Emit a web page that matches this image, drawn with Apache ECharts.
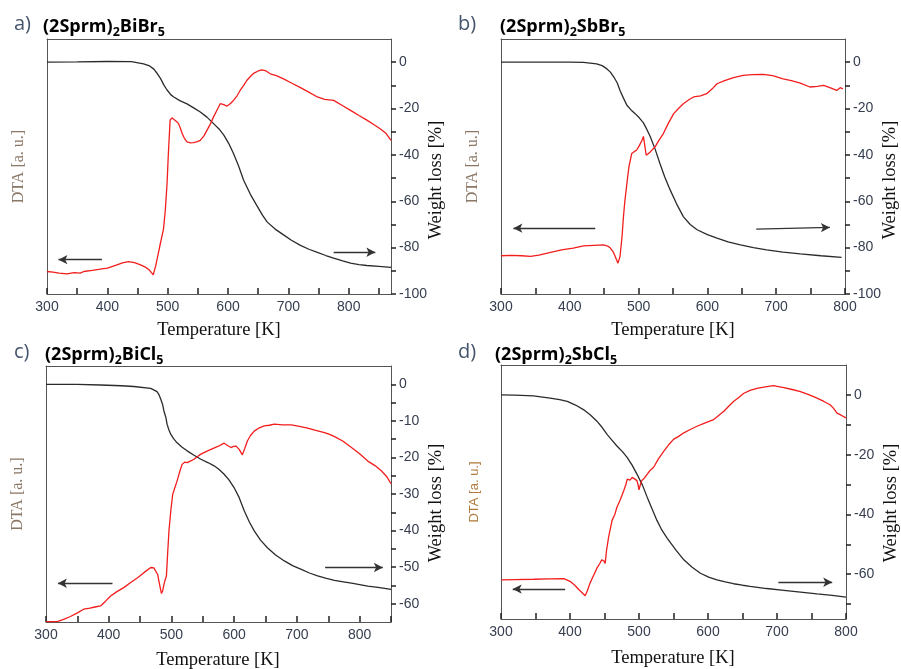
<!DOCTYPE html>
<html><head><meta charset="utf-8">
<script src="https://cdn.jsdelivr.net/npm/echarts@6/dist/echarts.min.js"></script>
<style>html,body{margin:0;padding:0;background:#fff}#c{width:901px;height:669px}</style>
</head><body><div id="c"></div>
<script>
// ---------- DATA ----------
const tgaA = [[300,0],[350,0.1],[400,0.3],[440,0.2],[460,-0.7],[470,-1.6],[477,-3],[483,-5],[488,-7],[494,-10],[499,-12],[505,-14],[510,-15],[520,-16.6],[532,-18],[543,-19.7],[554,-21.5],[565,-23.7],[576,-26.5],[585,-28.8],[593,-31.5],[601,-35],[609,-39.4],[617,-44.5],[626,-51],[637,-57],[648,-62],[657,-66],[665,-69],[678,-72],[692,-74.5],[705,-76.8],[720,-79],[734,-80.7],[748,-82],[762,-83.4],[775,-84.5],[790,-85.7],[803,-86.7],[817,-87.3],[830,-87.7],[850,-88.1],[870,-88.5]];
const dtaA = [[300,-90.3],[310,-90.6],[320,-91.0],[333,-91.3],[345,-90.8],[355,-91.0],[361,-90.3],[375,-89.8],[388,-89.3],[400,-88.8],[416,-87.4],[425,-86.6],[435,-86],[445,-86.5],[455,-87.4],[463,-88.4],[469,-89.5],[473,-90.8],[476,-91.7],[478,-91],[480,-88],[484,-83],[488,-78],[493,-72],[496,-64],[499,-52],[501,-40],[504,-25],[507,-24],[510,-24],[514,-25.5],[518,-26.5],[521,-28.5],[524,-30.8],[528,-33],[532,-34.4],[538,-34.8],[543,-34.7],[549,-34.3],[554,-33.7],[560,-31.8],[565,-29.4],[571,-26.5],[576,-23.6],[582,-20.5],[587,-17.9],[593,-18.3],[598,-19],[604,-17.8],[609,-16.5],[615,-14.5],[620,-12.2],[626,-10],[631,-7.9],[637,-6.2],[643,-4.7],[650,-3.8],[656,-3.3],[663,-3.8],[670,-5],[680,-5.8],[692,-7.2],[705,-9],[720,-11],[733,-12.8],[748,-15],[760,-16],[775,-16.5],[790,-18.8],[803,-20.8],[817,-23],[830,-25],[842,-27],[852,-28.7],[862,-30.8],[870,-33.7]];

const tgaB = [[300,0],[350,0],[400,0],[420,-0.1],[439,-0.7],[447,-1.5],[454,-2.9],[459,-4.3],[464,-6.4],[469,-9],[473,-12.2],[478,-15.5],[483,-18.6],[489,-20.6],[495,-22.2],[501,-24],[507,-26.2],[512,-29],[517,-32.2],[524,-37.5],[531,-43.7],[538,-49.5],[546,-55.2],[555,-61],[565,-66.6],[575,-70],[585,-72.3],[600,-74.4],[614,-75.9],[630,-77.5],[648,-78.8],[667,-80],[686,-81],[710,-81.9],[735,-82.7],[765,-83.5],[795,-84.2]];
const dtaB = [[300,-83.5],[315,-83.3],[330,-83.5],[343,-83.8],[355,-83.2],[372,-82],[388,-81],[405,-80.2],[420,-79.2],[435,-79],[449,-78.8],[455,-79.3],[459,-80.2],[463,-81.8],[466,-83.8],[470,-86.7],[473,-83.8],[476,-75],[478,-66.6],[480,-60],[483,-52.3],[486,-45],[490,-39.4],[494,-38.5],[497,-38],[501,-36],[505,-33.7],[507,-32],[509,-36],[511,-40.1],[514,-39.5],[517,-38.7],[524,-36.5],[530,-33.5],[536,-30.8],[543,-26.5],[551,-22.2],[558,-20],[565,-17.9],[573,-16.2],[580,-15],[590,-14.5],[599,-13.6],[607,-11.5],[614,-9.3],[625,-8],[638,-6.7],[652,-5.7],[665,-5.4],[681,-5.3],[695,-5.8],[710,-7.2],[722,-8],[735,-9],[749,-10.7],[760,-10.4],[769,-10],[778,-11],[788,-12.2],[793,-11],[797,-11.5]];

const tgaC = [[300,0],[350,0],[387,-0.2],[420,-0.4],[440,-0.6],[467,-1.1],[477,-2],[480,-2.8],[483,-4.1],[486,-5.6],[488,-7.3],[491,-9],[493,-10.9],[496,-12.5],[499,-13.7],[504,-15],[509,-16],[517,-17.2],[525,-18.2],[536,-19.4],[547,-20.5],[558,-21.4],[568,-22.3],[576,-23.3],[584,-24.6],[592,-26.2],[600,-28.3],[608,-31],[616,-34.6],[624,-37.6],[632,-40.1],[642,-42.6],[653,-44.7],[666,-46.7],[680,-48.3],[693,-49.6],[707,-50.6],[720,-51.6],[733,-52.4],[747,-53.1],[760,-53.6],[774,-54],[787,-54.4],[800,-54.8],[813,-55.2],[832,-55.6],[850,-56.1]];
const dtaC = [[300,-64.9],[310,-64.9],[318,-64.9],[328,-64.3],[339,-63.5],[350,-62.5],[360,-61.5],[370,-61.2],[378,-60.9],[387,-60.6],[395,-59.3],[403,-57.9],[413,-56.7],[424,-55.6],[435,-54.2],[446,-52.9],[456,-51.5],[467,-50.1],[472,-50.2],[475,-50.6],[478,-52],[480,-53.8],[482,-55.5],[484,-57.2],[486,-56.5],[488,-54.7],[490,-53.5],[492,-52.4],[494,-46],[496,-40.1],[499,-34.5],[502,-30.1],[505,-28.5],[509,-26.4],[513,-24],[517,-21.9],[521,-21.3],[525,-21.4],[530,-21],[536,-20.5],[541,-19.8],[547,-19.1],[555,-18.4],[563,-17.8],[574,-17],[584,-16.1],[590,-16.8],[595,-17.3],[599,-17],[603,-16.9],[608,-17.8],[613,-19.3],[617,-17.5],[621,-15.5],[626,-14],[632,-12.8],[640,-11.9],[648,-11.4],[656,-11.2],[664,-10.9],[677,-11.1],[691,-11.1],[704,-11.5],[717,-12],[730,-12.6],[744,-13.2],[752,-13.7],[760,-14.3],[773,-15.5],[787,-17.3],[800,-19],[813,-21],[825,-22.3],[835,-23.7],[843,-25.2],[850,-27.2]];

const tgaD = [[300,0],[320,-0.1],[347,-0.3],[371,-1.1],[385,-1.6],[396,-2.2],[408,-3.4],[420,-5],[430,-6.8],[439,-8.8],[447,-11],[454,-13.3],[461,-15.2],[468,-17.1],[476,-19],[483,-21],[490,-23.5],[497,-26.5],[505,-30.2],[512,-34.3],[519,-38.2],[526,-42],[533,-45.2],[541,-48],[553,-51.8],[565,-55.2],[577,-57.7],[589,-59.7],[601,-61],[613,-61.9],[625,-62.6],[637,-63.2],[650,-63.7],[661,-64.1],[685,-64.8],[710,-65.4],[734,-66],[758,-66.6],[780,-67.1],[800,-67.7]];
const dtaD = [[300,-61.9],[320,-61.8],[347,-61.7],[370,-61.6],[391,-61.5],[400,-62.4],[407,-63.7],[413,-65.2],[418,-66.3],[422,-67.2],[425,-65.6],[429,-63],[434,-60.5],[439,-58],[443,-56.5],[446,-55.2],[449,-55.5],[451,-56.4],[453,-52],[456,-47.5],[461,-42],[465,-40],[468,-37.6],[473,-35],[478,-32],[481,-30],[483,-28.2],[487,-28.5],[490,-27.6],[494,-28.2],[497,-28.7],[499,-30.5],[500,-31.8],[502,-30],[504,-28.7],[508,-27.8],[512,-26.5],[516,-25.3],[521,-24.3],[528,-21.5],[536,-18.8],[543,-16.7],[550,-14.9],[558,-13.8],[565,-12.7],[575,-11.5],[584,-10.5],[596,-9.4],[608,-8.3],[615,-7],[623,-5.5],[630,-3.8],[637,-2.2],[645,-0.8],[652,0.55],[661,1.5],[671,2.2],[683,2.7],[695,3.1],[702,2.8],[710,2.4],[722,1.8],[734,1.1],[746,0.1],[758,-1.1],[768,-2.2],[777,-3.3],[782,-4.5],[787,-6.1],[793,-6.8],[800,-7.7]];

const arrowsA = [[[391,-85.2],[319,-85.2]],[[775,-82],[844,-82]]];
const arrowsB = [[[437,-71.6],[318,-71.6]],[[671,-72],[778,-71.3]]];
const arrowsC = [[[406,-54.4],[319,-54.4]],[[745,-50.1],[837,-50.1]]];
const arrowsD = [[[393,-65],[317,-65]],[[702,-62.7],[780,-62.7]]];

const xLabels = [300,400,500,600,700,800];
const xTicksA = [300,350,400,450,500,550,600,650,700,750,800,850];
const xTicksB = [300,350,400,450,500,550,600,650,700,750,800];
const xTicksC = [300,350,400,450,500,550,600,650,700,750,800,850];
const xTicksD = [300,350,400,450,500,550,600,650,700,750,800];
const yLabelsAB = [0,-20,-40,-60,-80,-100];
const yTicksAB = [0,-10,-20,-30,-40,-50,-60,-70,-80,-90,-100];
const yLabelsC = [0,-10,-20,-30,-40,-50,-60];
const yTicksC = [0,-5,-10,-15,-20,-25,-30,-35,-40,-45,-50,-55,-60];
const yLabelsD = [0,-20,-40,-60];
const yTicksD = [0,-10,-20,-30,-40,-50,-60,-70];

const panelLetters = ['a)','b)','c)','d)'];
const compounds = [['BiBr','5'],['SbBr','5'],['BiCl','5'],['SbCl','5']];
const xTitle = 'Temperature [K]';
const yTitle = 'Weight loss [%]';

// ---------- LAYOUT ----------
const panels = [
  {grid:{left:47,top:39,width:344,height:255}, xMax:870, yMin:-100, yMax:10, xLab:xLabels, xTick:xTicksA, yLab:yLabelsAB, yTick:yTicksAB, tga:tgaA, dta:dtaA, arrows:arrowsA, lx:14, tx:43, ty:15, xt:[219,330], yt:[436,180], dtaFont:'Liberation Serif', dtaColor:'#8a7766', dtaSize:16},
  {grid:{left:501,top:39,width:344,height:255}, xMax:800, yMin:-100, yMax:10, xLab:xLabels, xTick:xTicksB, yLab:yLabelsAB, yTick:yTicksAB, tga:tgaB, dta:dtaB, arrows:arrowsB, lx:458, tx:500, ty:15, xt:[673,330], yt:[890,180], dtaFont:'Liberation Serif', dtaColor:'#8a7766', dtaSize:16},
  {grid:{left:46,top:366,width:345,height:256}, xMax:850, yMin:-65, yMax:5, xLab:xLabels, xTick:xTicksC, yLab:yLabelsC, yTick:yTicksC, tga:tgaC, dta:dtaC, arrows:arrowsC, lx:14, tx:45, ty:343, xt:[218,660], yt:[436,503], dtaFont:'Liberation Serif', dtaColor:'#8a7766', dtaSize:16},
  {grid:{left:501,top:365,width:345,height:254}, xMax:800, yMin:-75, yMax:10, xLab:xLabels, xTick:xTicksD, yLab:yLabelsD, yTick:yTicksD, tga:tgaD, dta:dtaD, arrows:arrowsD, lx:458, tx:495, ty:343, xt:[673,658], yt:[891,503], dtaFont:'Liberation Sans', dtaColor:'#b07a3c', dtaSize:13}
];

const axisColor = '#555';
const tickColor = '#222';
const labelStyle = {fontFamily:'Liberation Sans', fontSize:14, color:'#353d4e'};
const option = {animation:false, backgroundColor:'#fff', grid:[], xAxis:[], yAxis:[], series:[], title:[], graphic:[]};

panels.forEach((p,i)=>{
  option.grid.push(Object.assign({show:false, containLabel:false}, p.grid));
  option.xAxis.push({type:'value', gridIndex:i, min:300, max:p.xMax,
    axisLine:{show:true, onZero:false, lineStyle:{color:axisColor}},
    axisTick:{show:true, inside:true, length:6, customValues:p.xTick, lineStyle:{color:tickColor, width:1.5}},
    axisLabel:{customValues:p.xLab, margin:6, ...labelStyle},
    splitLine:{show:false}});
  option.xAxis.push({type:'value', gridIndex:i, min:300, max:p.xMax, position:'top',
    axisLine:{show:true, onZero:false, lineStyle:{color:axisColor}},
    axisTick:{show:false}, axisLabel:{show:false}, splitLine:{show:false}});
  option.yAxis.push({type:'value', gridIndex:i, min:p.yMin, max:p.yMax, position:'right',
    axisLine:{show:true, onZero:false, lineStyle:{color:axisColor}},
    axisTick:{show:true, inside:false, length:5, customValues:p.yTick, lineStyle:{color:tickColor, width:1.5}},
    axisLabel:{customValues:p.yLab, margin:8, ...labelStyle},
    splitLine:{show:false}});
  option.yAxis.push({type:'value', gridIndex:i, min:p.yMin, max:p.yMax, position:'left',
    axisLine:{show:true, onZero:false, lineStyle:{color:axisColor}},
    axisTick:{show:false}, axisLabel:{show:false}, splitLine:{show:false},
    name:'DTA [a. u.]', nameLocation:'middle', nameRotate:90, nameGap:20,
    nameTextStyle:{fontFamily:p.dtaFont, fontSize:p.dtaSize, color:p.dtaColor}});
  option.series.push({type:'line', xAxisIndex:2*i, yAxisIndex:2*i, data:p.tga, showSymbol:false, symbol:'none',
    lineStyle:{color:'#2b2b2b', width:1.3}, silent:true,
    markLine:{silent:true, symbol:['none','arrow'], symbolSize:[7,9], label:{show:false},
      lineStyle:{color:'#333', width:1.3, type:'solid'},
      data:p.arrows.map(a=>[{coord:a[0]},{coord:a[1]}])}});
  option.series.push({type:'line', xAxisIndex:2*i, yAxisIndex:2*i+1, data:p.dta, showSymbol:false, symbol:'none',
    lineStyle:{color:'#f21d1d', width:1.3}, silent:true});
  option.graphic.push({type:'text', x:p.xt[0], y:p.xt[1], silent:true,
    style:{text:xTitle, fontFamily:'Liberation Serif', fontSize:18.5, fill:'#111', align:'center', verticalAlign:'middle'}});
  option.graphic.push({type:'text', x:p.yt[0], y:p.yt[1], rotation:Math.PI/2, silent:true,
    style:{text:yTitle, fontFamily:'Liberation Serif', fontSize:18.5, fill:'#111', align:'center', verticalAlign:'middle'}});
  option.title.push({text:panelLetters[i], left:p.lx, top:p.ty-1, padding:0,
    textStyle:{fontFamily:'Open Sans', fontSize:20, fontWeight:'normal', color:'#44546a'}});
  option.title.push({text:'{b|(2Sprm)}{s|2}{b|'+compounds[i][0]+'}{s|'+compounds[i][1]+'}', left:p.tx, top:p.ty, padding:0,
    textStyle:{rich:{
      b:{fontFamily:'Open Sans', fontSize:18, fontWeight:'bold', color:'#000', lineHeight:24, verticalAlign:'middle'},
      s:{fontFamily:'Open Sans', fontSize:12.5, fontWeight:'bold', color:'#000', lineHeight:12, verticalAlign:'bottom'}}}});
});

const chart = echarts.init(document.getElementById('c'), null, {renderer:'canvas'});
chart.setOption(option);
</script></body></html>
